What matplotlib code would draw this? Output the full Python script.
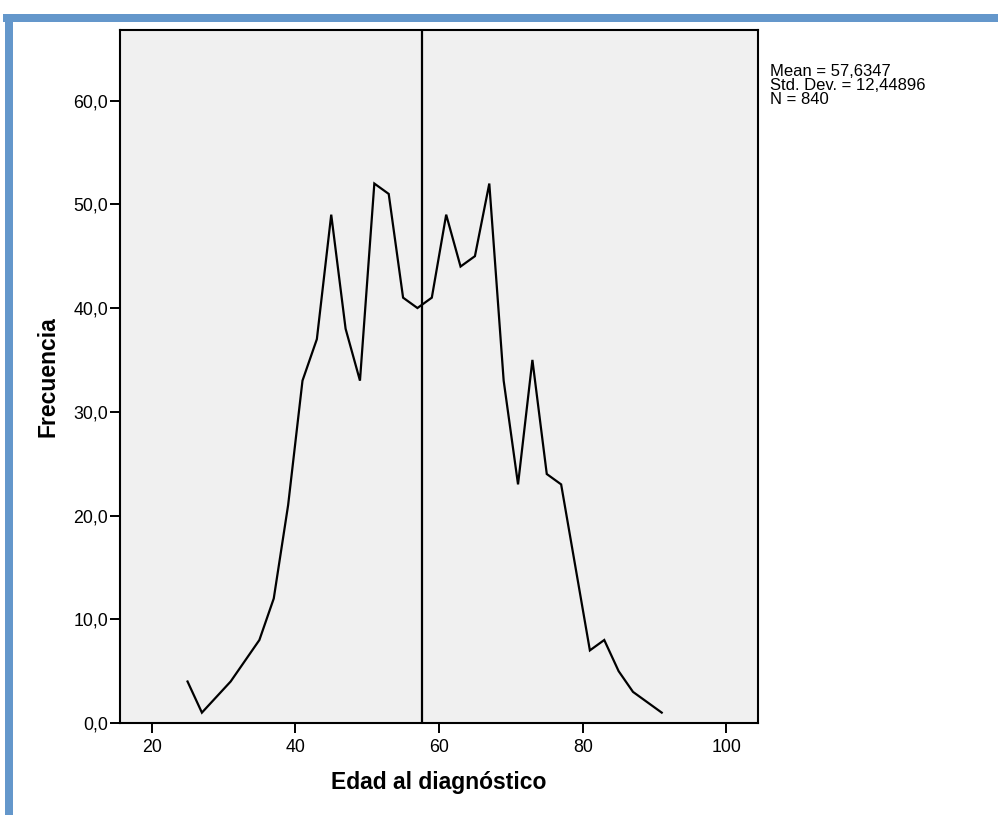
import matplotlib
matplotlib.use("Agg")
import matplotlib.pyplot as plt
from matplotlib.patches import Rectangle
from matplotlib.ticker import FixedLocator, FuncFormatter

plt.rcParams['font.family'] = ['Liberation Sans', 'DejaVu Sans']

# Frequency polygon of age at diagnosis (2-year bins, empty bins omitted)
ages = [25, 27, 31, 33, 35, 37, 39, 41, 43, 45, 47, 49, 51, 53, 55, 57, 59,
        61, 63, 65, 67, 69, 71, 73, 75, 77, 79, 81, 83, 85, 87, 89, 91]
freqs = [4, 1, 4, 6, 8, 12, 21, 33, 37, 49, 38, 33, 52, 51, 41, 40, 41,
         49, 44, 45, 52, 33, 23, 35, 24, 23, 15, 7, 8, 5, 3, 2, 1]

mean_age = 57.6347
std_age = 12.44896
n_cases = 840

x_ticks = [20, 40, 60, 80, 100]
y_ticks = [0, 10, 20, 30, 40, 50, 60]

fig = plt.figure(figsize=(9.98, 8.15), dpi=100)
fig.patch.set_facecolor('white')

# Blue frame along the top and left edges
blue = '#6497cb'
fig.patches.append(Rectangle((3 / 998, 1 - 22 / 815), 1, 8 / 815,
                             transform=fig.transFigure, facecolor=blue,
                             edgecolor='none', zorder=0))
fig.patches.append(Rectangle((5 / 998, 0), 8 / 998, 1 - 14 / 815,
                             transform=fig.transFigure, facecolor=blue,
                             edgecolor='none', zorder=0))

ax = fig.add_axes([120 / 998, 1 - 723 / 815, 638 / 998, 693 / 815])
ax.set_facecolor('#f0f0f0')

ax.plot(ages, freqs, color='black', linewidth=1.6, solid_joinstyle='miter')
ax.axvline(mean_age, color='black', linewidth=1.6)

ax.set_xlim(15.6, 104.4)
ax.set_ylim(0, 66.8)

ax.xaxis.set_major_locator(FixedLocator(x_ticks))
ax.yaxis.set_major_locator(FixedLocator(y_ticks))
ax.yaxis.set_major_formatter(FuncFormatter(lambda v, p: f"{v:.1f}".replace('.', ',')))
ax.xaxis.set_major_formatter(FuncFormatter(lambda v, p: f"{int(v)}"))

ax.tick_params(axis='both', direction='out', length=7.5, width=1.4,
               color='black', labelsize=12.8, labelcolor='black')
ax.tick_params(axis='y', pad=1)
ax.tick_params(axis='x', pad=4)

for side in ['left', 'right', 'top', 'bottom']:
    ax.spines[side].set_color('black')
    ax.spines[side].set_linewidth(1.5)

ax.set_xlabel('Edad al diagnóstico', fontsize=16.5, fontweight='bold', labelpad=11)
ax.set_ylabel('Frecuencia', fontsize=16.5, fontweight='bold', labelpad=10)

stats = (f"Mean = {mean_age:.4f}\nStd. Dev. = {std_age:.5f}\nN = {n_cases}").replace('.', ',')
stats = stats.replace('Std, Dev,', 'Std. Dev.')
fig.text(770 / 998, 1 - 64 / 815, stats, fontsize=12, va='top', ha='left',
         linespacing=0.92, color='black')

fig.savefig('out.png', dpi=100, facecolor='white')
